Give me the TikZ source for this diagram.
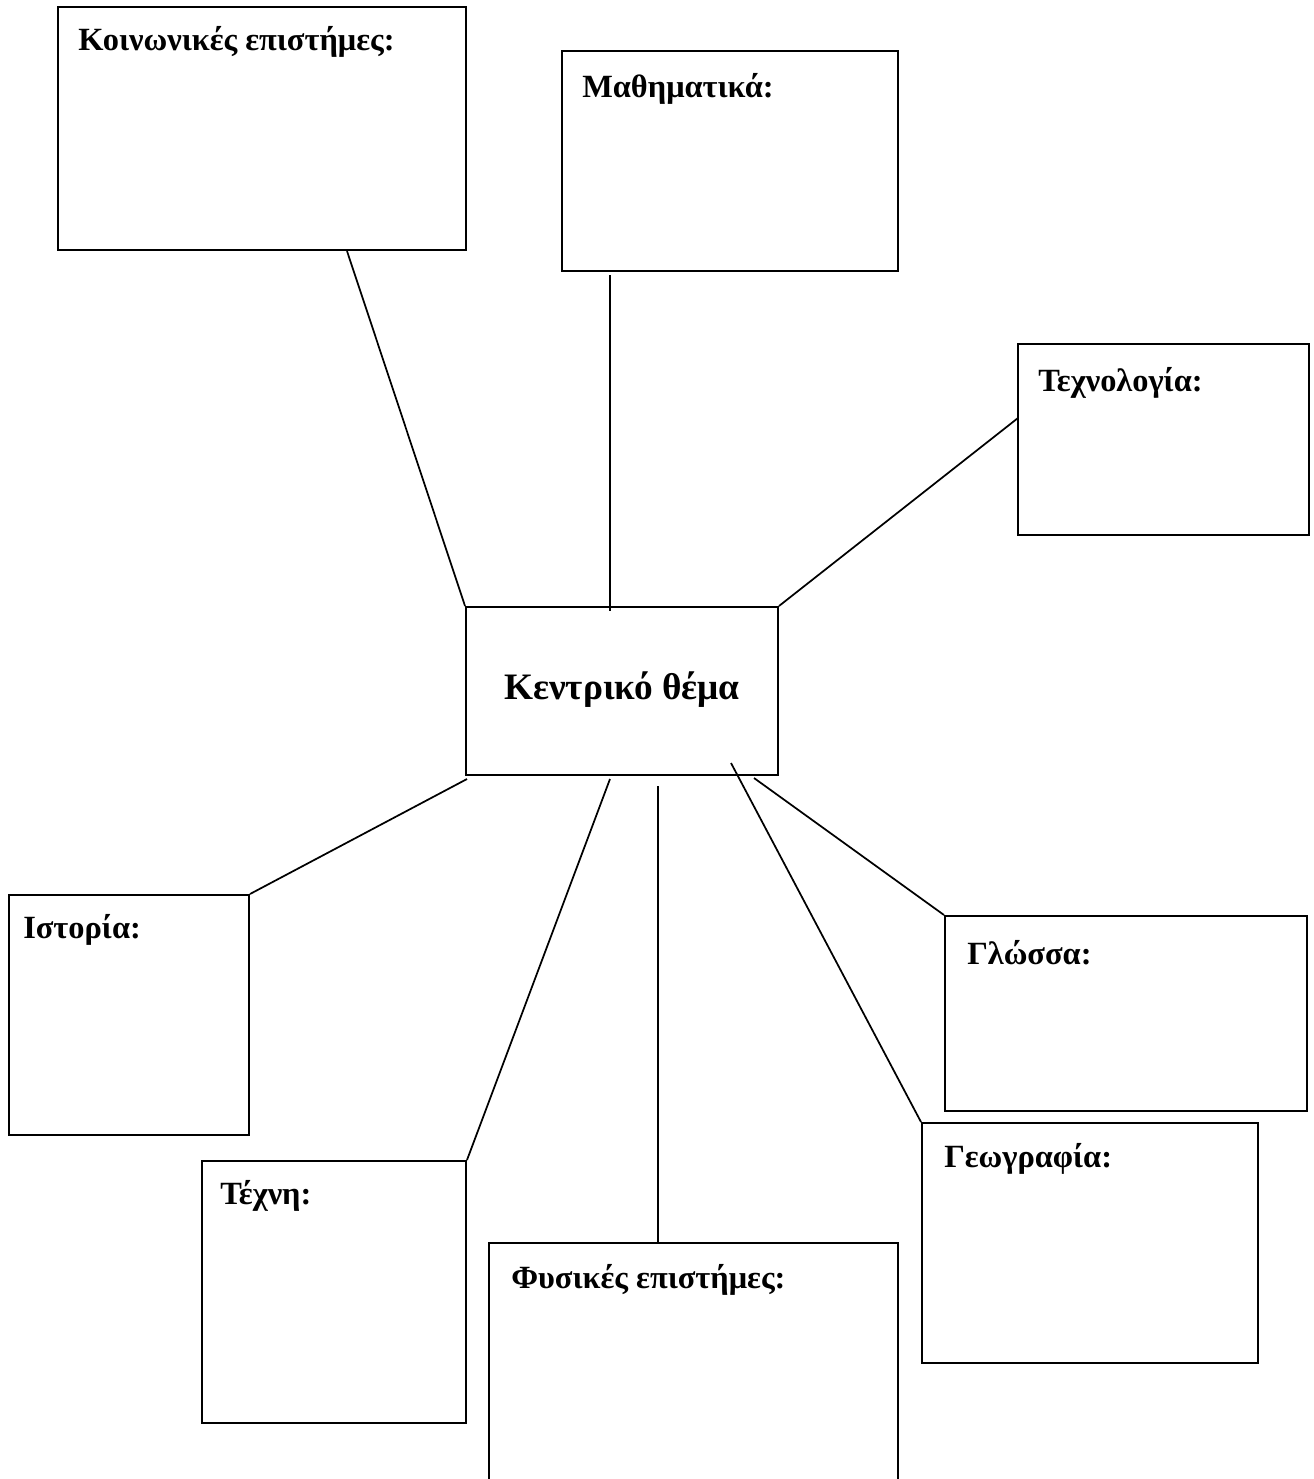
\documentclass[tikz,border=0pt]{standalone}
\usepackage{fontspec}
\setmainfont{Liberation Serif}
\usetikzlibrary{fit}
\begin{document}
\begin{tikzpicture}[x=0.75pt,y=-0.75pt,
  box/.style={draw,line width=1.5pt,inner sep=0pt,fit={#1}},
  conn/.style={line width=1.3pt},
  lbl/.style={anchor=base west,inner sep=0pt,font=\fontsize{24.3}{29}\selectfont\bfseries},
  clbl/.style={inner sep=0pt,font=\fontsize{28}{34}\selectfont\bfseries}]
\useasboundingbox (0,0) rectangle (1314,1479);
% boxes
\node[box={(58,7) (466,250)}] (koin) {};
\node[box={(562,51) (898,271)}] (math) {};
\node[box={(1018,344) (1309,535)}] (tech) {};
\node[box={(466,607) (778,775)}] (kent) {};
\node[box={(9,895) (249,1135)}] (ist) {};
\node[box={(202,1161) (466,1423)}] (texn) {};
\node[box={(922,1123) (1258,1363)}] (geo) {};
\node[box={(945,916) (1307,1111)}] (glo) {};
% Φυσικές επιστήμες: box runs past the bottom edge
\coordinate (fysSW) at (489,1490);
\coordinate (fysSE) at (898,1490);
\coordinate (fysNE) at (898,1243);
\coordinate (fysN) at (658,1243);
\draw[line width=1.5pt] (fysSW) |- (fysNE) -- (fysSE);
% labels
\node[lbl] (tkoin) at (78,50) {Κοινωνικές επιστήμες:};
\node[lbl] (tmath) at (582,97) {Μαθηματικά:};
\node[lbl] (ttech) at (1038,391) {Τεχνολογία:};
\node[clbl] (tkent) at (622,690) {Κεντρικό θέμα};
\node[lbl] (tist) at (23,938) {Ιστορία:};
\node[lbl] (ttexn) at (220,1204) {Τέχνη:};
\node[lbl] (tfys) at (511,1288) {Φυσικές επιστήμες:};
\node[lbl] (tgeo) at (944,1167) {Γεωγραφία:};
\node[lbl] (tglo) at (967,964) {Γλώσσα:};
% free ends of connectors
\coordinate (koinS) at (347,251);
\coordinate (mathS) at (610,275);
\coordinate (techW) at (1018,418);
\coordinate (kA) at (610,611);
\coordinate (kB) at (658,786);
\coordinate (kC) at (731,763);
\coordinate (kD) at (754,778);
\coordinate (kE) at (610,779);
\coordinate (kF) at (467,779);
% connectors
\draw[conn] (koinS) -- (kent.north west);
\draw[conn] (mathS) -- (kA);
\draw[conn] (techW) -- (kent.north east);
\draw[conn] (kF) -- (ist.north east);
\draw[conn] (kE) -- (texn.north east);
\draw[conn] (kB) -- (fysN);
\draw[conn] (kC) -- (geo.north west);
\draw[conn] (kD) -- (glo.north west);
\end{tikzpicture}
\end{document}
